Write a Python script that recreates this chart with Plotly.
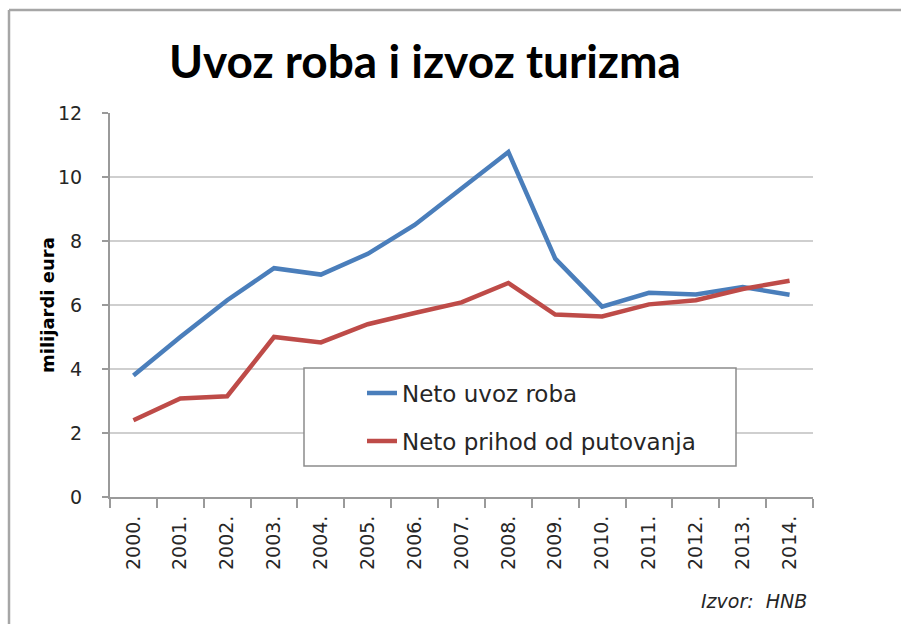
import plotly.graph_objects as go

years = ["2000.", "2001.", "2002.", "2003.", "2004.", "2005.", "2006.", "2007.",
         "2008.", "2009.", "2010.", "2011.", "2012.", "2013.", "2014."]
neto_uvoz_roba = [3.80, 5.00, 6.15, 7.15, 6.95, 7.60, 8.50, 9.62,
                  10.78, 7.45, 5.95, 6.38, 6.33, 6.56, 6.32]
neto_prihod_putovanja = [2.40, 3.08, 3.15, 5.00, 4.83, 5.40, 5.75, 6.08,
                         6.69, 5.70, 5.64, 6.02, 6.15, 6.50, 6.76]
series_names = ["Neto uvoz roba", "Neto prihod od putovanja"]
y_ticks = [0, 2, 4, 6, 8, 10, 12]

W, H = 901, 624
L, R, T, B = 110, 88, 113, 127
pw, ph = W - L - R, H - T - B

def px(x):
    return (x - L) / pw

def py(y):
    return (H - B - y) / ph

blue = "#4a7ebb"
red = "#be4b48"
font_main = "DejaVu Sans, Verdana, sans-serif"

fig = go.Figure()
fig.add_trace(go.Scatter(x=years, y=neto_uvoz_roba, mode="lines", name=series_names[0],
                         line=dict(color=blue, width=4.5), legend="legend"))
fig.add_trace(go.Scatter(x=years, y=neto_prihod_putovanja, mode="lines", name=series_names[1],
                         line=dict(color=red, width=4.5), legend="legend2"))

legend_common = dict(xref="paper", yref="paper", xanchor="left", yanchor="middle",
                     bgcolor="rgba(0,0,0,0)", borderwidth=0,
                     font=dict(family=font_main, size=23, color="#262626"))

fig.update_layout(
    width=W, height=H,
    margin=dict(l=L, r=R, t=T, b=B, autoexpand=False),
    paper_bgcolor="white", plot_bgcolor="white",
    title=dict(text="<b>Uvoz roba i izvoz turizma</b>", x=425 / W, xanchor="center",
               y=1 - 62 / H, yanchor="middle", xref="container", yref="container",
               font=dict(family="Lato, Carlito, sans-serif", size=46, color="#000000")),
    legend=dict(x=px(362), y=py(393), **legend_common),
    legend2=dict(x=px(362), y=py(441), **legend_common),
    showlegend=True,
    xaxis=dict(type="category", tickson="boundaries", ticks="outside", ticklen=9,
               tickcolor="#9a9a9a", tickwidth=1.5, showline=True, linecolor="#9a9a9a",
               linewidth=2, showgrid=False, tickangle=-90, ticklabelstandoff=9,
               tickfont=dict(family=font_main, size=19, color="#262626"),
               range=[-0.5, 14.5]),
    yaxis=dict(range=[0, 12], tickvals=y_ticks, ticks="outside", ticklen=6,
               tickcolor="#9a9a9a", tickwidth=1.5, showline=True, linecolor="#9a9a9a",
               linewidth=2, showgrid=True, gridcolor="#cfcfcf", gridwidth=1.5,
               zeroline=False, ticklabelstandoff=16,
               tickfont=dict(family=font_main, size=19, color="#262626")),
    shapes=[
        # outer frame (top and left edges visible)
        dict(type="line", xref="paper", yref="paper", x0=px(9), x1=px(910), y0=py(10), y1=py(10),
             line=dict(color="#a6a6a6", width=2.5)),
        dict(type="line", xref="paper", yref="paper", x0=px(9), x1=px(9), y0=py(10), y1=py(640),
             line=dict(color="#a6a6a6", width=2.5)),
        # legend box
        dict(type="rect", xref="paper", yref="paper", x0=px(304), x1=px(736), y0=py(466), y1=py(368),
             fillcolor="white", line=dict(color="#8c8c8c", width=1.5), layer="above"),
    ],
    annotations=[
        dict(text="<b>milijardi eura</b>", xref="paper", yref="paper", x=px(47), y=0.5,
             xanchor="center", yanchor="middle", textangle=-90, showarrow=False,
             font=dict(family=font_main, size=18, color="#000000")),
        dict(text="<i>Izvor:  HNB</i>", xref="paper", yref="paper", x=px(809), y=py(601),
             xanchor="right", yanchor="middle", showarrow=False,
             font=dict(family=font_main, size=19, color="#262626")),
    ],
)

fig.write_html("out.html", config={"displayModeBar": False},
               post_script="document.body.style.margin='0';")
